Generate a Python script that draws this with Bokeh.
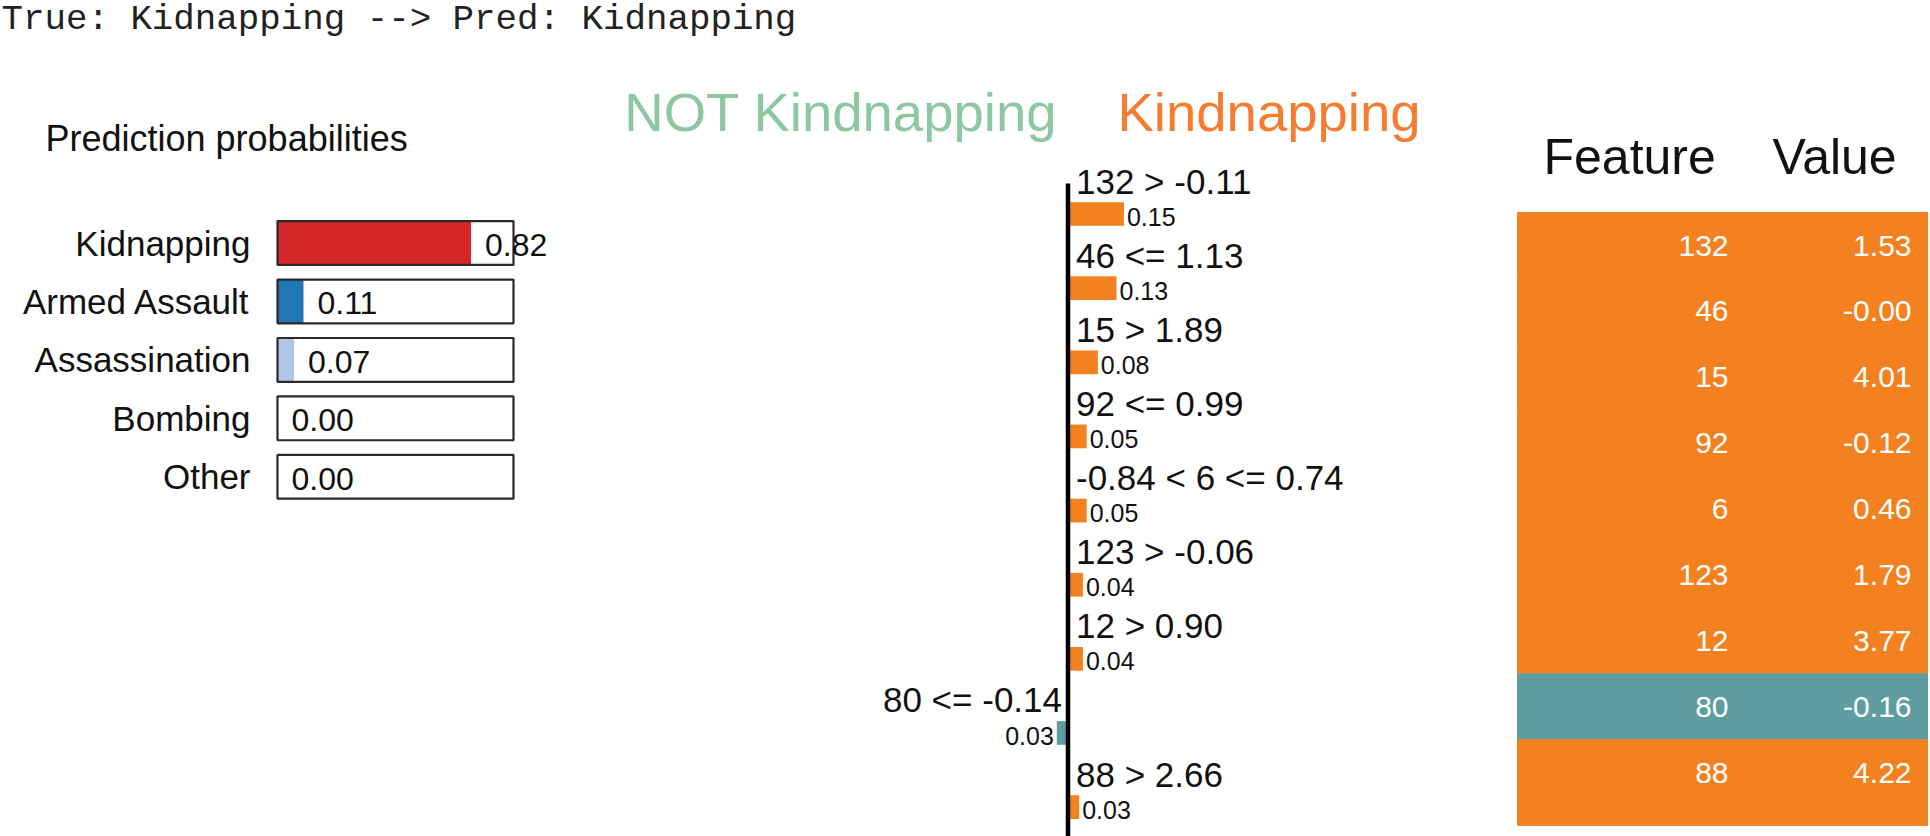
from bokeh.plotting import figure
from bokeh.models import Range1d, ColumnDataSource
from bokeh.core.properties import value
from bokeh.embed import file_html
from bokeh.resources import INLINE

# ---------------- data ----------------
true_label = "Kidnapping"
pred_label = "Kidnapping"

classes = ["Kidnapping", "Armed Assault", "Assassination", "Bombing", "Other"]
probs = [0.82, 0.11, 0.07, 0.00, 0.00]
prob_colors = ["#d62728", "#1f77b4", "#aec7e8", "#ff7f0e", "#ffbb78"]

neg_header = "NOT Kindnapping"
pos_header = "Kindnapping"

rules = ["132 > -0.11", "46 <= 1.13", "15 > 1.89", "92 <= 0.99", "-0.84 < 6 <= 0.74",
         "123 > -0.06", "12 > 0.90", "80 <= -0.14", "88 > 2.66"]
weights = [0.15, 0.13, 0.08, 0.05, 0.05, 0.04, 0.04, -0.03, 0.03]

feature_names = ["132", "46", "15", "92", "6", "123", "12", "80", "88"]
feature_values = ["1.53", "-0.00", "4.01", "-0.12", "0.46", "1.79", "3.77", "-0.16", "4.22"]

# ---------------- style ----------------
W, H = 1930, 836
ORANGE = "#f48120"
TEAL = "#5f9ea0"
SANS = value("Liberation Sans")


def xr(v0, p0, ppu):
    start = v0 - p0 / ppu
    return Range1d(start=start, end=start + W / ppu)


def yr(v0, p0, ppu):
    top = v0 - p0 / ppu
    return Range1d(start=top + H / ppu, end=top)


p = figure(width=W, height=H, output_backend="svg", toolbar_location=None,
           x_axis_type=None, y_axis_type=None, min_border=0,
           x_range=Range1d(0, W), y_range=Range1d(H, 0))
p.outline_line_color = None
p.background_fill_color = "white"
p.border_fill_color = "white"

p.extra_x_ranges = {"prob": xr(0, 277, 236), "feat": xr(0, 1067.5, 373)}
p.extra_y_ranges = {"prob": yr(0, 242.5, 58.45), "feat": yr(0, 213.5, 74.14),
                    "table": yr(0, 245, 65.9)}

# ---------------- title ----------------
p.text(x=[1], y=[19], text=[f"True: {true_label} --> Pred: {pred_label}"],
       text_font=value("Liberation Mono"), text_font_size=value("35.8px"),
       text_color="#222222", text_align="left", text_baseline="middle")

# ---------------- prediction probabilities ----------------
p.text(x=[45], y=[138], text=["Prediction probabilities"], text_font=SANS,
       text_font_size=value("36px"), text_color="#111111", text_baseline="middle")

n_c = len(classes)
idx = list(range(n_c))
bh = 0.375
psrc = ColumnDataSource(dict(y=idx, p=probs, top=[i - bh for i in idx],
                             bottom=[i + bh for i in idx], zero=[0] * n_c, one=[1] * n_c,
                             color=prob_colors, label=classes,
                             txt=[f"{v:.2f}" for v in probs]))
p.quad(left="zero", right="p", top="top", bottom="bottom", source=psrc,
       fill_color="color", line_color=None, x_range_name="prob", y_range_name="prob")
p.quad(left="zero", right="one", top="top", bottom="bottom", source=psrc,
       fill_color=None, line_color="#2a2a2a", line_width=2.2,
       x_range_name="prob", y_range_name="prob")
p.text(x="zero", y="y", text="label", source=psrc, x_offset=-27,
       text_font=SANS, text_font_size=value("35px"), text_color="#111111",
       text_align="right", text_baseline="middle",
       x_range_name="prob", y_range_name="prob")
p.text(x="p", y="y", text="txt", source=psrc, x_offset=14, y_offset=2,
       text_font=SANS, text_font_size=value("32px"), text_color="#111111",
       text_align="left", text_baseline="middle",
       x_range_name="prob", y_range_name="prob")

# ---------------- explanation headers ----------------
p.text(x=[1057], y=[112], text=[neg_header], text_font=SANS,
       text_font_size=value("54.5px"), text_color="#8cc7a2",
       text_align="right", text_baseline="middle")
p.text(x=[1117], y=[112], text=[pos_header], text_font=SANS,
       text_font_size=value("54.5px"), text_color="#f47d30",
       text_align="left", text_baseline="middle")

# ---------------- explanation bars ----------------
n_f = len(rules)
fidx = list(range(n_f))
fh = 0.16
pos_i = [i for i in fidx if weights[i] > 0]
neg_i = [i for i in fidx if weights[i] <= 0]

fsrc = ColumnDataSource(dict(
    left=[min(0, w) for w in weights], right=[max(0, w) for w in weights],
    top=[i - fh for i in fidx], bottom=[i + fh for i in fidx],
    color=[ORANGE if w > 0 else TEAL for w in weights]))
p.quad(left="left", right="right", top="top", bottom="bottom", source=fsrc,
       fill_color="color", line_color=None, x_range_name="feat", y_range_name="feat")


def sub(lst, ii):
    return [lst[i] for i in ii]


for ii, sign in ((pos_i, 1), (neg_i, -1)):
    src = ColumnDataSource(dict(
        zero=[0] * len(ii), w=sub(weights, ii),
        ylab=[i - 0.445 for i in ii], yval=[i + 0.035 for i in ii],
        rule=sub(rules, ii), wtxt=[f"{abs(weights[i]):.2f}" for i in ii]))
    align = "left" if sign > 0 else "right"
    p.text(x="zero", y="ylab", text="rule", source=src, x_offset=8 if sign > 0 else -6,
           text_font=SANS, text_font_size=value("35px"), text_color="#111111",
           text_align=align, text_baseline="middle",
           x_range_name="feat", y_range_name="feat")
    p.text(x="w", y="yval", text="wtxt", source=src, x_offset=3 * sign,
           text_font=SANS, text_font_size=value("25px"), text_color="#111111",
           text_align=align, text_baseline="middle",
           x_range_name="feat", y_range_name="feat")

p.segment(x0=[0], x1=[0], y0=[-0.41], y1=[n_f - 1 + 0.5], line_color="black",
          line_width=4.5, x_range_name="feat", y_range_name="feat")

# ---------------- feature / value table ----------------
p.text(x=[1543], y=[156], text=["Feature"], text_font=SANS, text_font_size=value("50px"),
       text_color="#111111", text_align="left", text_baseline="middle")
p.text(x=[1772], y=[156], text=["Value"], text_font=SANS, text_font_size=value("50px"),
       text_color="#111111", text_align="left", text_baseline="middle")

tsrc = ColumnDataSource(dict(
    y=fidx, top=[i - 0.5 for i in fidx],
    bottom=[i + 0.5 + (0.3 if i == n_f - 1 else 0) for i in fidx],
    left=[1517] * n_f, right=[1927] * n_f,
    color=[ORANGE if w > 0 else TEAL for w in weights],
    fname=feature_names, fval=feature_values,
    xf=[1728] * n_f, xv=[1911] * n_f))
p.quad(left="left", right="right", top="top", bottom="bottom", source=tsrc,
       fill_color="color", line_color="color", line_width=1, y_range_name="table")
p.text(x="xf", y="y", text="fname", source=tsrc, text_font=SANS,
       text_font_size=value("30px"), text_color="white", text_align="right",
       text_baseline="middle", y_range_name="table")
p.text(x="xv", y="y", text="fval", source=tsrc, text_font=SANS,
       text_font_size=value("30px"), text_color="white", text_align="right",
       text_baseline="middle", y_range_name="table")

open("out.html", "w").write(file_html(p, INLINE))
